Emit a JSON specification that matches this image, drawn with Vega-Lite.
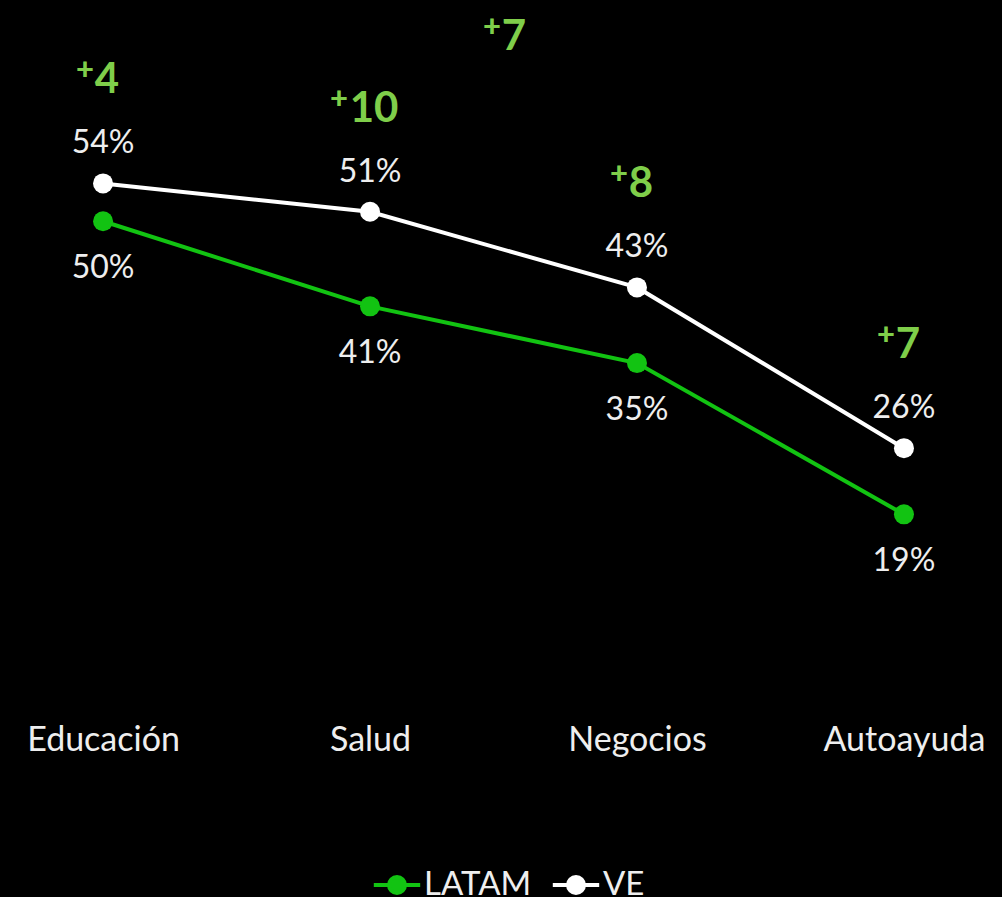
{
  "$schema": "https://vega.github.io/schema/vega-lite/v6.json",
  "width": 1007,
  "height": 694,
  "autosize": "none",
  "padding": {"top": 0, "left": 0, "right": 0, "bottom": 203},
  "background": "#000000",
  "config": {"view": {"stroke": null}, "font": "Lato"},
  "datasets": {
    "main": [
      {"cat": "Educación", "series": "LATAM", "value": 50, "label": "50%"},
      {"cat": "Salud", "series": "LATAM", "value": 41, "label": "41%"},
      {"cat": "Negocios", "series": "LATAM", "value": 35, "label": "35%"},
      {"cat": "Autoayuda", "series": "LATAM", "value": 19, "label": "19%"},
      {"cat": "Educación", "series": "VE", "value": 54, "label": "54%"},
      {"cat": "Salud", "series": "VE", "value": 51, "label": "51%"},
      {"cat": "Negocios", "series": "VE", "value": 43, "label": "43%"},
      {"cat": "Autoayuda", "series": "VE", "value": 26, "label": "26%"}
    ],
    "diff": [
      {"cat": "Educación", "value": 54, "num": "4"},
      {"cat": "Salud", "value": 51, "num": "10"},
      {"cat": "Negocios", "value": 43, "num": "8"},
      {"cat": "Autoayuda", "value": 26, "num": "7"}
    ],
    "stray": [
      {"cat": "Salud", "value": 69.5, "num": "7"}
    ]
  },
  "encoding": {
    "x": {"field": "cat", "type": "ordinal", "sort": ["Educación", "Salud", "Negocios", "Autoayuda"],
      "scale": {"type": "point", "padding": 0.386},
      "axis": {"title": null, "domain": false, "ticks": false, "tickSize": 0, "grid": false, "labelPadding": 46, "labelBaseline": "middle", "labelFontSize": 34, "labelColor": "#eeeeee", "labelAngle": 0, "labelFont": "Lato", "labelOverlap": false}},
    "y": {"field": "value", "type": "quantitative", "scale": {"domain": [0, 73.4], "nice": false, "zero": true}, "axis": null}
  },
  "layer": [
    {
      "data": {"name": "main"},
      "mark": {"type": "line", "strokeWidth": 4},
      "encoding": {
        "color": {"field": "series", "type": "nominal",
          "scale": {"domain": ["LATAM", "VE"], "range": ["#12c312", "#ffffff"]},
          "legend": {"title": null, "orient": "none", "direction": "horizontal", "legendX": 379, "legendY": 867,
            "symbolType": "M-1.45,0H1.45M-0.5,0A0.5,0.5,0,1,0,0.5,0A0.5,0.5,0,1,0,-0.5,0", "symbolSize": 1024, "symbolStrokeWidth": 4,
            "labelFontSize": 33, "labelColor": "#eeeeee", "labelFont": "Lato", "labelOffset": 9, "columnPadding": 12}}
      }
    },
    {
      "data": {"name": "main"},
      "mark": {"type": "point", "filled": true, "size": 400, "opacity": 1},
      "encoding": {"color": {"field": "series", "type": "nominal"}}
    },
    {
      "data": {"name": "main"},
      "transform": [{"filter": "datum.series === 'VE'"}],
      "mark": {"type": "text", "dy": -40, "fontSize": 32, "color": "#eeeeee", "baseline": "middle", "align": "center"},
      "encoding": {"text": {"field": "label"}}
    },
    {
      "data": {"name": "main"},
      "transform": [{"filter": "datum.series === 'LATAM'"}],
      "mark": {"type": "text", "dy": 47, "fontSize": 32, "color": "#eeeeee", "baseline": "middle", "align": "center"},
      "encoding": {"text": {"field": "label"}}
    },
    {
      "data": {"name": "diff"},
      "mark": {"type": "text", "dy": -103, "dx": 4, "fontSize": 42, "fontWeight": "bold", "color": "#7fce4a", "baseline": "middle", "align": "center"},
      "encoding": {"text": {"field": "num"}}
    },
    {
      "data": {"name": "diff"},
      "transform": [{"filter": "length(datum.num) === 1"}],
      "mark": {"type": "text", "dy": -112, "dx": -18, "fontSize": 31, "fontWeight": 900, "color": "#7fce4a", "baseline": "middle", "align": "center"},
      "encoding": {"text": {"value": "+"}}
    },
    {
      "data": {"name": "diff"},
      "transform": [{"filter": "length(datum.num) === 2"}],
      "mark": {"type": "text", "dy": -112, "dx": -31, "fontSize": 31, "fontWeight": 900, "color": "#7fce4a", "baseline": "middle", "align": "center"},
      "encoding": {"text": {"value": "+"}}
    },
    {
      "data": {"name": "stray"},
      "mark": {"type": "text", "dx": 144, "fontSize": 42, "fontWeight": "bold", "color": "#7fce4a", "baseline": "middle", "align": "center"},
      "encoding": {"text": {"field": "num"}}
    },
    {
      "data": {"name": "stray"},
      "mark": {"type": "text", "dx": 122, "dy": -9, "fontSize": 31, "fontWeight": 900, "color": "#7fce4a", "baseline": "middle", "align": "center"},
      "encoding": {"text": {"value": "+"}}
    }
  ]
}
